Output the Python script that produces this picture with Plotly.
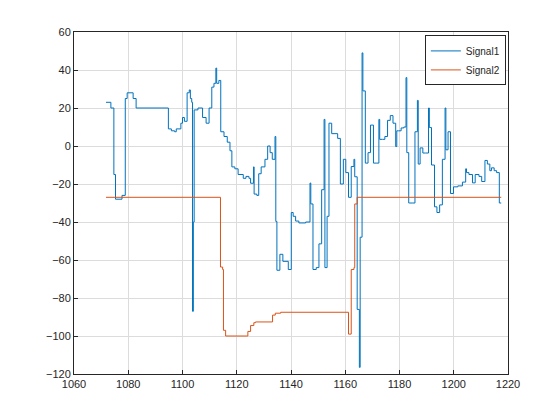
import plotly.graph_objects as go

s1_x = [1071.8,1073.6,1074.7,1075.3,1077.7,1078.9,1079.6,1081.8,1082.9,1094.8,1095.9,1097.1,1097.7,1099.4,1100.0,1100.7,1101.7,1102.5,1102.9,1103.4,1103.7,1104.0,1104.3,1104.6,1105.7,1107.4,1108.7,1109.8,1110.8,1111.6,1112.3,1112.6,1113.4,1114.1,1115.3,1116.5,1117.5,1118.2,1119.3,1120.5,1122.4,1123.4,1124.5,1125.1,1126.2,1126.4,1127.4,1128.1,1129.0,1130.4,1131.4,1132.3,1133.1,1134.1,1134.4,1134.8,1135.9,1137.0,1139.0,1140.1,1140.8,1141.7,1142.9,1145.4,1147.0,1147.3,1148.1,1149.3,1150.3,1151.3,1152.2,1152.5,1153.3,1154.0,1155.0,1157.2,1158.2,1159.3,1160.2,1161.2,1162.2,1163.2,1163.5,1164.4,1165.2,1165.5,1166.2,1166.5,1167.4,1168.4,1169.3,1170.4,1171.4,1172.4,1172.7,1173.7,1174.6,1175.6,1176.6,1177.6,1178.6,1179.0,1179.6,1180.6,1181.6,1182.4,1182.7,1183.4,1183.8,1184.9,1185.7,1186.6,1186.9,1187.6,1188.6,1189.6,1190.7,1191.0,1191.8,1192.9,1193.8,1194.8,1195.8,1196.8,1197.1,1197.9,1198.8,1199.9,1201.5,1203.2,1204.4,1204.7,1205.6,1206.9,1207.9,1209.3,1210.3,1211.5,1212.4,1213.3,1213.9,1214.9,1215.8,1216.8,1217.5]
s1_y = [23,20,-15,-28,-26,25,28,25,20,9,8,7.5,9,12,15,13,28,29.5,25,23,-87,-40,19,19,20,15,12,20,31,33,41,33,34.5,7.5,5,2,-2.5,-11,-12,-15,-17,-16,-17,-19.6,-11,-25.3,-26,-14.6,-11,-7,0,-3.5,-7,5,-39.7,-65.4,-57,-60.7,-65,-35,-37,-39.5,-40.5,-40,-19.5,-30.5,-65,-64,-51.5,-23,14,-64,-37,12,6.5,4,-20,-7,-14,-27,-10.8,-7,-16.2,-86,-116.5,-48,49,29,-9,-3.5,11,-9,-9,14,3.5,3.5,5,13.5,16,12,-0.3,8,8,9.5,10,36,-3.5,-30,-30,-30,7.5,24,-9.5,-1,-3.7,-3.7,20,9.7,-10,-32,-35,-31,-7,20,-2,7.5,-25,-21.5,-21,-19,-12,-14,-15,-19.4,-15,-16,-18.7,-7.6,-9.5,-13,-11.5,-13,-14,-30,-30]
s2_x = [1071.8,1114.0,1114.8,1115.1,1115.9,1124.1,1125.1,1126.3,1126.9,1133.2,1134.2,1136.2,1161.2,1162.2,1163.2,1163.5,1164.4,1217.5]
s2_y = [-27,-63.7,-65,-97,-100,-97.6,-94.5,-93,-92.6,-89,-88,-87.5,-99,-65,-64,-30.5,-27,-27]

fig = go.Figure()
fig.add_trace(go.Scatter(x=s1_x, y=s1_y, mode="lines", line=dict(shape="hv", color="#0072BD", width=1), name="Signal1"))
fig.add_trace(go.Scatter(x=s2_x, y=s2_y, mode="lines", line=dict(shape="hv", color="#D95319", width=1), name="Signal2"))
ax = dict(showline=True, mirror=True, linecolor="#262626", linewidth=1, ticks="inside", ticklen=4,
          tickcolor="#262626", showgrid=True, gridcolor="#dcdcdc", zeroline=False,
          tickfont=dict(size=11, color="#262626", family="Liberation Sans"))
fig.update_xaxes(range=[1060, 1220], dtick=20, **ax)
fig.update_yaxes(range=[-120, 60], dtick=20, **ax)
fig.update_layout(width=560, height=420, margin=dict(l=66, r=60, t=24, b=54),
                  plot_bgcolor="white", paper_bgcolor="white",
                  legend=dict(x=0.995, y=0.99, xanchor="right", yanchor="top", bgcolor="white",
                              bordercolor="#262626", borderwidth=1, tracegroupgap=0,
                              font=dict(size=10, family="Liberation Sans", color="#262626")))
fig.write_html("out.html")
